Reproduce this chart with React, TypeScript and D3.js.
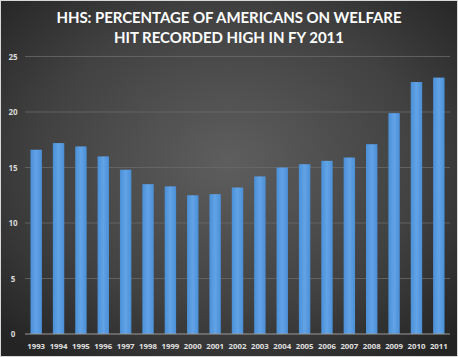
import React from "react";
import * as d3 from "d3";

const years = ["1993","1994","1995","1996","1997","1998","1999","2000","2001","2002","2003","2004","2005","2006","2007","2008","2009","2010","2011"];
const values = [16.6,17.2,16.9,16.0,14.8,13.5,13.3,12.5,12.6,13.2,14.2,15.0,15.3,15.6,15.9,17.1,19.9,22.7,23.1];
const yTicks = [0,5,10,15,20,25];
const titleLines = ["HHS: PERCENTAGE OF AMERICANS ON WELFARE","HIT RECORDED HIGH IN FY 2011"];
const titleWidths = [345, 230];

export default function App() {
  const W = 458, H = 357;
  const x = d3.scaleBand<string>().domain(years).range([25, 450]).paddingInner(0.49).paddingOuter(0.245);
  const y = d3.scaleLinear().domain([0, 25]).range([334, 56.5]);
  return (
    <svg width={W} height={H} style={{ position: "absolute", left: 0, top: 0 }}>
      <defs>
        <radialGradient id="bg" cx="50%" cy="45%" r="70%">
          <stop offset="0%" stopColor="#5e5e5e" />
          <stop offset="60%" stopColor="#414141" />
          <stop offset="100%" stopColor="#242424" />
        </radialGradient>
        <linearGradient id="bar" x1="0" x2="1" y1="0" y2="0">
          <stop offset="0%" stopColor="#4a8fd6" />
          <stop offset="50%" stopColor="#62a3e6" />
          <stop offset="100%" stopColor="#4a8fd6" />
        </linearGradient>
      </defs>
      <rect x={0} y={0} width={W} height={H} fill="#d8d8d8" />
      <rect x={1} y={1} width={W - 2} height={H - 2} fill="url(#bg)" />
      {titleLines.map((t, i) => (
        <text key={i} x={229} y={22.5 + i * 20.5} textAnchor="middle" fill="#ffffff"
          textLength={titleWidths[i]} lengthAdjust="spacing"
          style={{ font: "bold 15px Lato, 'Open Sans', sans-serif" }}>{t}</text>
      ))}
      {yTicks.map(t => (
        <g key={t}>
          {t > 0 && <line x1={25} x2={450} y1={y(t)} y2={y(t)} stroke="#6a6a6a" strokeWidth={0.8} />}
          <text x={13} y={y(t) + 3} textAnchor="middle" fill="#d9d9d9"
            style={{ font: "bold 8px 'Open Sans', sans-serif" }}>{t}</text>
        </g>
      ))}
      {years.map((yr, i) => (
        <rect key={yr} x={x(yr)} y={y(values[i])} width={x.bandwidth()} height={y(0) - y(values[i])} fill="url(#bar)" />
      ))}
      <line x1={25} x2={450} y1={y(0)} y2={y(0)} stroke="#9a9a9a" strokeWidth={1} />
      {years.map(yr => (
        <text key={yr} x={(x(yr) as number) + x.bandwidth() / 2} y={349} textAnchor="middle" fill="#e0e0e0"
          style={{ font: "bold 7.8px 'Open Sans', sans-serif" }}>{yr}</text>
      ))}
    </svg>
  );
}
